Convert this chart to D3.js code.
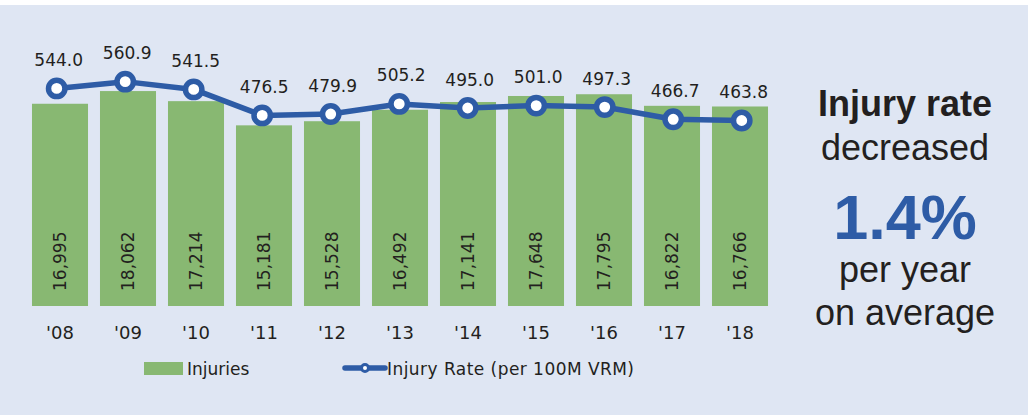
<!DOCTYPE html>
<html><head><meta charset="utf-8">
<script src="https://cdn.jsdelivr.net/npm/d3@7"></script>
<style>html,body{margin:0;padding:0;background:#fff;}svg{display:block;}</style>
</head><body>
<svg id="c" width="1028" height="415"></svg>
<script>
const years = ["'08","'09","'10","'11","'12","'13","'14","'15","'16","'17","'18"];
const injuries = [16995,18062,17214,15181,15528,16492,17141,17648,17795,16822,16766];
const injuryRate = [544.0,560.9,541.5,476.5,479.9,505.2,495.0,501.0,497.3,466.7,463.8];
const legendLabels = ["Injuries","Injury Rate (per 100M VRM)"];
const calloutLines = ["Injury rate","decreased","1.4%","per year","on average"];

const svg = d3.select("#c");
const GREEN = "#88b872", BLUE = "#2e5ca6", TXT = "#231f20", BG = "#dfe6f3";
const FONT = "'DejaVu Sans', sans-serif";
const ARIAL = "'Liberation Sans', Arial, sans-serif";

svg.append("rect").attr("x",0).attr("y",5).attr("width",1028).attr("height",410).attr("fill",BG);

const x = d3.scaleBand().domain(years).range([26, 774]).paddingInner(0.176).paddingOuter(0.088);
const x2 = d3.scalePoint().domain(years).range([56.7, 741.7]);
const y = d3.scaleLinear().domain([0, 20000]).range([306, 68]);
const y2 = d3.scaleLinear().domain([0, 600]).range([306, 66]);

const g = svg.append("g");
g.selectAll("rect.bar").data(years).join("rect")
  .attr("class","bar")
  .attr("x", d => x(d))
  .attr("width", x.bandwidth())
  .attr("y", (d,i) => y(injuries[i]))
  .attr("height", (d,i) => y(0) - y(injuries[i]))
  .attr("fill", GREEN);

g.selectAll("text.bl").data(years).join("text")
  .attr("class","bl")
  .attr("transform", d => `translate(${x(d)+x.bandwidth()/2+6},291) rotate(-90)`)
  .attr("font-family", FONT).attr("font-size", 17).attr("fill", TXT)
  .text((d,i) => d3.format(",")(injuries[i]));

const xAxis = d3.axisBottom(x).tickSize(0).tickPadding(0);
const ax = svg.append("g").attr("transform","translate(0,326)").call(xAxis);
ax.select(".domain").remove();
ax.selectAll("text").attr("font-family", FONT).attr("font-size", 18).attr("fill", TXT).attr("dy","0.71em");

const line = d3.line().x((d,i) => x2(years[i])).y(d => y2(d));
svg.append("path").datum(injuryRate).attr("d", line)
  .attr("fill","none").attr("stroke",BLUE).attr("stroke-width",5.5).attr("stroke-linejoin","round");
svg.selectAll("circle.pt").data(injuryRate).join("circle")
  .attr("class","pt")
  .attr("cx",(d,i) => x2(years[i])).attr("cy", d => y2(d)).attr("r", 8.2)
  .attr("fill","#fff").attr("stroke",BLUE).attr("stroke-width",5.5);
svg.selectAll("text.rl").data(injuryRate).join("text")
  .attr("class","rl")
  .attr("x",(d,i) => x2(years[i]) + 2).attr("y", d => y2(d) - 22.5)
  .attr("text-anchor","middle")
  .attr("font-family", FONT).attr("font-size", 17).attr("fill", TXT)
  .text(d => d3.format(".1f")(d));

const lg = svg.append("g");
lg.append("rect").attr("x",144).attr("y",362).attr("width",39).attr("height",13).attr("fill",GREEN);
lg.append("text").attr("x",187).attr("y",374.5).attr("font-family",FONT).attr("font-size",17).attr("fill",TXT).text(legendLabels[0]);
lg.append("line").attr("x1",345).attr("x2",385).attr("y1",368).attr("y2",368)
  .attr("stroke",BLUE).attr("stroke-width",5.5).attr("stroke-linecap","round");
lg.append("circle").attr("cx",365).attr("cy",368).attr("r",3.5).attr("fill","#fff").attr("stroke",BLUE).attr("stroke-width",3);
lg.append("text").attr("x",387).attr("y",374.5).attr("font-family",FONT).attr("font-size",17).attr("fill",TXT)
  .attr("textLength",247).attr("lengthAdjust","spacing").text(legendLabels[1]);

const cx = 905;
const co = svg.append("g").attr("text-anchor","middle").attr("font-family",ARIAL);
co.append("text").attr("x",cx).attr("y",116).attr("font-size",36).attr("font-weight","bold").attr("fill",TXT).text(calloutLines[0]);
co.append("text").attr("x",cx).attr("y",160).attr("font-size",36).attr("fill",TXT).text(calloutLines[1]);
co.append("text").attr("x",cx).attr("y",239).attr("font-size",63).attr("font-weight","bold").attr("fill",BLUE).text(calloutLines[2]);
co.append("text").attr("x",cx).attr("y",282).attr("font-size",36).attr("fill",TXT).text(calloutLines[3]);
co.append("text").attr("x",cx).attr("y",325).attr("font-size",36).attr("fill",TXT).text(calloutLines[4]);
</script>
</body></html>
